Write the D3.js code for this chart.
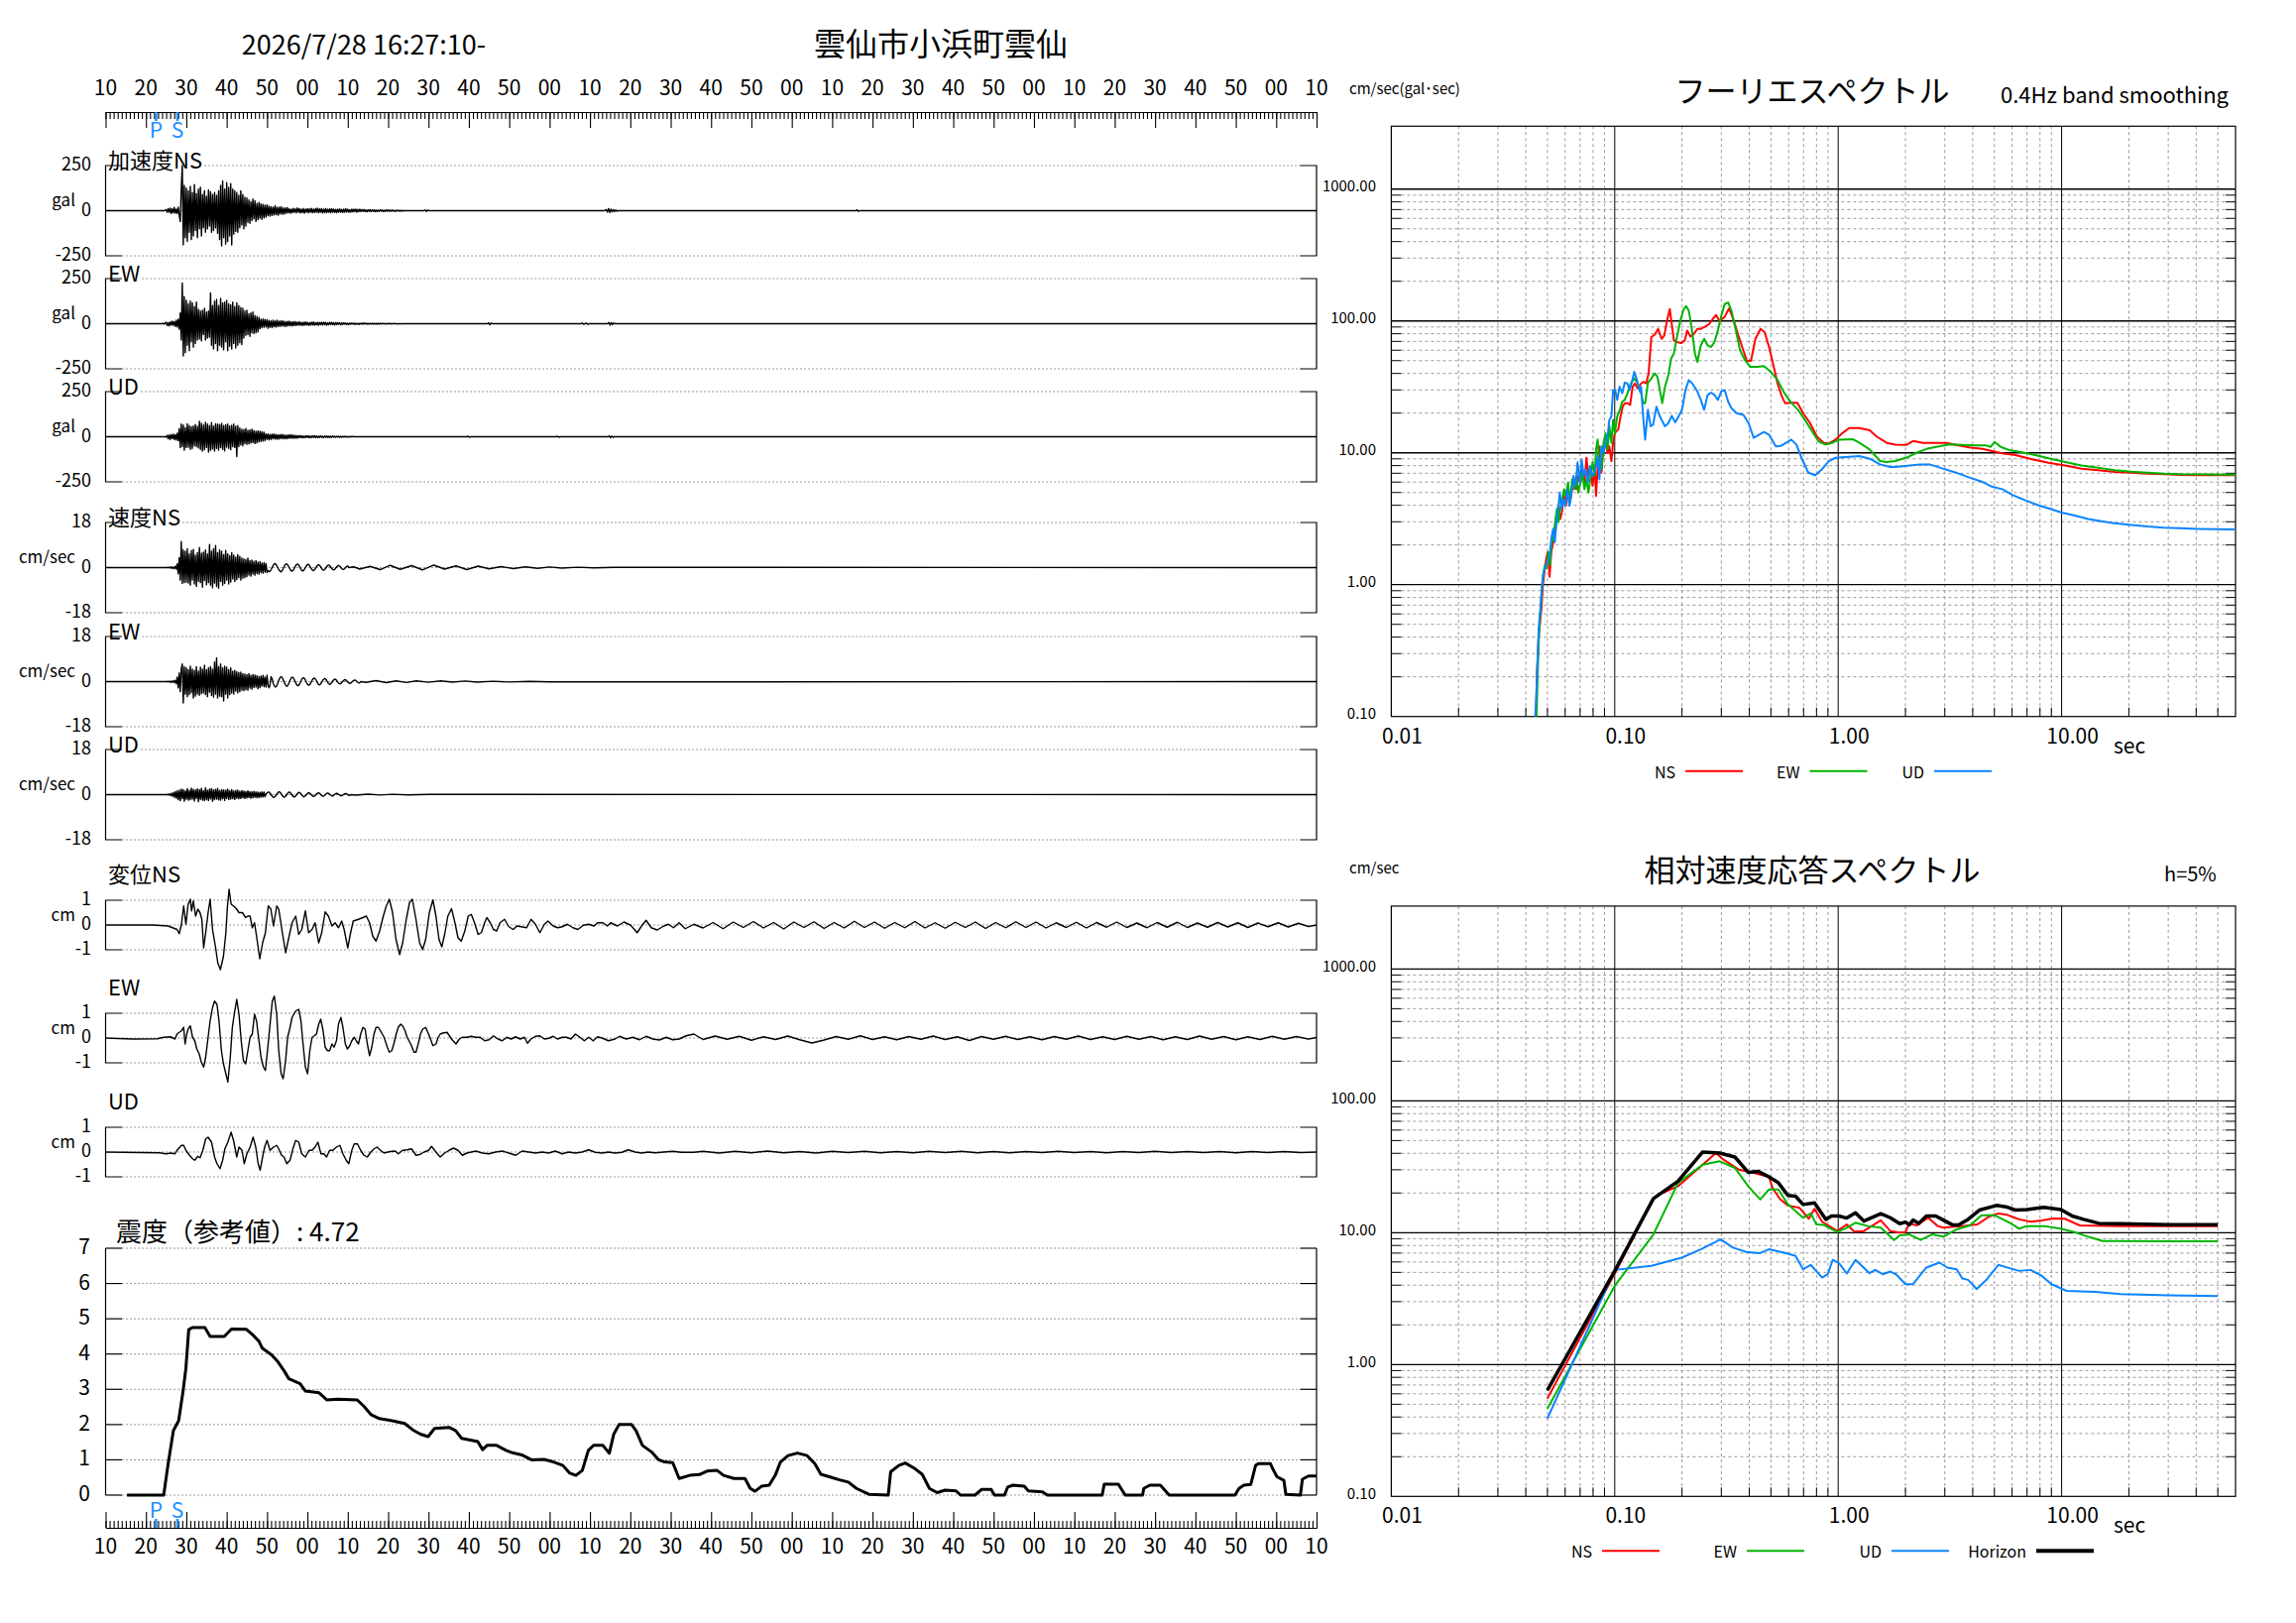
<!DOCTYPE html>
<html lang="ja">
<head>
<meta charset="UTF-8">
<title>雲仙市小浜町雲仙</title>
<script src="https://d3js.org/d3.v7.min.js"></script>
<style>
  body { margin: 0; background: #fff; }
  svg { display: block; font-family: "Noto Sans CJK JP", "Noto Sans", sans-serif; }
  .dot { stroke: #999; stroke-width: 1; stroke-dasharray: 2,2; fill: none; }
  .grid { stroke: #999; stroke-width: 1; stroke-dasharray: 3,3; fill: none; }
  .frame { stroke: #000; stroke-width: 1.2; fill: none; }
  .trace { fill: none; stroke: #000; stroke-width: 1.4; stroke-linejoin: round; }
</style>
</head>
<body>
<div id="chart"></div>
<script>
// ---- 時刻・ラベル ----
const titleTime = "2026/7/28 16:27:10-";
const station = "雲仙市小浜町雲仙";
const timeLabels = ["10","20","30","40","50","00","10","20","30","40","50","00","10","20","30","40","50","00",
  "10","20","30","40","50","00","10","20","30","40","50","00","10"];
const phaseNames = ["P", "S"];
const phaseTimes = [12.5, 17.8];           // 16:27:10 からの秒

const panelNames = ["加速度NS","EW","UD","速度NS","EW","UD","変位NS","EW","UD"];
const panelUnits = ["gal","gal","gal","cm/sec","cm/sec","cm/sec","cm","cm","cm"];
const panelMax = [250, 250, 250, 18, 18, 18, 1, 1, 1];

// ---- 加速度 (gal)  0.25 秒間隔 ----
const DT = 0.25;
const accNS0 = 14, accEW0 = 14, accUD0 = 14;
const accNS = [0,1,-1,2, 6,-9,12,-8,14,-16,10,-12,18,-14,9,-15,20,-25, -60,120,250,-190,140,
  -150,125,-170,110,-120,135,-160,100,-140,145,-110,95,-150,120,-100,130,-140,90,
  -95,110,-120,80,-100,115,-85,105,-120,90,-110,100,-95,85,-125,110,
  -160,140,-195,165,-150,120,-185,155,-170,130,-140,150,-190,120,-130,110,
  -115,100,-120,85,-95,110,-80,90,-100,75,-85,70,
  -65,60,-70,50,-55,65,-45,55,-60,40,-50,45,-42,38,-48,35,-40,30,-36,32,
  -28,25,-30,22,-26,20,-24,28,-22,18,-25,20,-18,22,-20,15,-18,16,-14,17,
  -12,10,-14,9,-11,13,-8,10,-12,15,-9,11,-13,8,-10,12,-14,9,-8,11,-12,10,-9,13,-11,8,-10,12,-9,14,-12,10,
  -8,11,-13,9,-10,12,-11,8,-9,10,-12,11,-8,9,-10,7,-11,9,-8,10,-9,7,-10,8,-9,11,-7,8,-9,6,-8,9,-7,8,-6,9,-8,7,-6,8,
  -5,6,-4,7,-5,4,-6,5,-4,6,-5,4,-3,5,-6,4,-5,3,-4,5,-3,4,-5,3,-4,4,-3,5,-4,3,-3,4,-3,2,-4,3,-2,3,-3,2,-3,2,-2,1];
const accNSEvents = [[78.9,0],[79.2,4],[79.5,-5],[79.8,3],[80.1,0],[123.6,0],[124,6],[124.3,-8],[124.6,12],[124.9,-10],
  [125.2,9],[125.5,-7],[125.8,6],[126.1,-5],[126.4,4],[126.7,-3],[127,0],[185.9,0],[186.2,5],[186.5,-4],[186.8,0]];
const accEW = [0,2,-3,4, 8,-10,6,-12,10,-8,14,-9,12,-15,20,-18,25,-30, 60,-90,226,-179,150,
  -160,130,-120,110,-150,125,-100,115,-130,95,-110,120,
  -90,80,-85,70,-95,75,-60,85,-90,65,-80,70,-75, 171,-120,100,
  -140,125,-110,135,-150,100,-120,140,-130,115,-145,120,-100,130,-150,110,-125,105,-140,120,-110,95,-135,115,-120,100,-105,90,-115,85,
  -80,70,-65,75,-60,55,-70,60,-50,65,-55,45,-50,40,-45,35,
  -28,25,-22,26,-20,24,-18,22,-25,18,-20,16,-22,19,-17,15,-18,20,-16,14,-15,17,-13,15,-14,12,-16,13,-11,14,-12,10,-13,11,-10,12,
  -10,9,-8,11,-9,7,-10,8,-9,10,-7,8,-9,6,-8,9,-7,10,-8,6,-7,8,-9,7,-6,8,-7,9,-6,7,-8,5,-6,7,-5,8,-6,5,-7,6,-5,6,-4,5,-6,4,
  -4,5,-3,4,-5,3,-4,3,-3,4,-2,3,-4,3,-3,2,-4,3,-2,3,-3,4,-2,3,-3,2,-3,2,-2,3,-3,2,-2,2,-3,2,-2,3,-2,2,-1,2,-2,1,-2,2,-1,2,-2,1,-1,2,-1,1,-2,1,-1,1,-1,1,-1,0];
const accEWEvents = [[94.6,0],[94.9,5],[95.2,-6],[95.5,4],[95.8,0],[117.8,0],[118.1,4],[118.4,-3],[118.7,0],[119.2,3],[119.5,-4],[119.8,0],
  [124.4,0],[124.7,7],[125,-8],[125.3,6],[125.6,-5],[125.9,4],[126.2,0]];
const accUD = [0,1,-1,1,-2, 8,-12,10,-15,12,-10,14,-16,12,-18,20,-22,
  45,-60,70,-55,65,-75,50,-60,72,-58,62,-70,55,-65,60,-50,68,-55,58,-62,
  86,-70,75,-80,65,-72,80,-60,70,-85,62,-75,78,-68,60,-80,72,-65,70,-75,68,-60,75,-70,62,-78,66,-58,70,-65,60,-72,64,-55,70,-60,58,-110,62,-55,
  48,-45,42,-50,40,-38,45,-42,36,-40,38,-35,42,-32,35,-38,30,-34,32,-28,30,-26,28,-24,25,-22,
  16,-14,15,-17,13,-15,14,-12,16,-13,12,-14,11,-13,12,-10,13,-11,10,-12,9,-11,10,-9,11,-8,10,-9,8,-9,7,-8,
  6,-5,7,-6,5,-6,4,-5,6,-4,5,-6,4,-5,5,-4,6,-5,4,-5,3,-4,5,-4,3,-5,4,-3,4,-4,3,-4,3,-3,4,-3,2,-3,3,-2,3,-3,2,-3,2,-2,3,-2,2,-2,1,-2,2,-1,2,-1,1];
const accUDEvents = [[89.5,0],[89.8,3],[90.1,-3],[90.4,0],[111.7,0],[112,3],[112.3,-3],[112.6,0],
  [124.5,0],[124.8,5],[125.1,-6],[125.4,4],[125.7,-3],[126,0]];

// ---- 速度 (cm/sec)  0.25 秒間隔 ----
const velNS0 = 15, velEW0 = 15, velUD0 = 15;
const velNS = [0,0.1,-0.1,0.2,-0.2,0.3,-0.3,0.2,-0.4,0.5,-0.6, 1.5,-2.5,4,-5,10.4,-6.3,7,-6,
  6.5,-5.8,7.5,-6.2,5.5,-7,6.8,-5,7.2,-6.5,5,-7.5,6,-5.5,8,-6,5.8,-7.8,6.2,-5.2,7,-6.8,5.5,-6,9.2,-7,6.5,-8,7.5,-6.2,
  8.8,-7.5,6,-8.2,7,-5.5,6.5,-7,5.2,-6.3,6.8,-5,5.5,-6.5,4.8,-5.8,6,-4.5,5,-5.5,4.2,-4.8,5.2,-4,4.5,-5,3.8,-4.2,
  3.5,-4,3.2,-3.6,3.8,-3,2.8,-3.4,3,-2.6,2.5,-3,2.8,-2.4,2.2,-2.6,2.4,-2,1.8,-2.2,2,-1.8,1.6,-2,
  -1.2,-1.6,-1.4,-0.8,0.0,0.8,1.4,1.6,1.2,0.5,-0.3,-1.0, -1.5,-1.7,-1.2,-0.4,0.5,1.2,1.5,1.3,0.7,-0.1,-0.8,-1.3,
  -1.4,-1.0,-0.3,0.5,1.1,1.4,1.2,0.6,-0.2,-0.9,-1.3,-1.2, -0.7,0.0,0.7,1.2,1.3,0.9,0.2,-0.5,-1.0,-1.2,-0.9,-0.3,
  0.4,0.9,1.1,0.9,0.4,-0.2,-0.8,-1.0,-0.8,-0.3,0.3,0.8, 1.0,0.8,0.3,-0.3,-0.7,-0.9,-0.7,-0.2,0.3,0.7,0.8,0.6,
  0.1,-0.4,-0.7,-0.7,-0.4,0.1,0.5,0.6];
const velNSTail = [[61.5,0.3],[63,-0.6],[65.5,0.5],[68,-0.8],[70.5,0.9],[73,-0.7],[75.8,0.8],[78.5,-0.9],[81.3,1.0],
  [84,-0.6],[86.8,0.7],[89.5,-0.8],[92.3,0.6],[95,-0.5],[98,0.4],[101,-0.4],[104,0.3],[107,-0.3],[110,0.25],[113,-0.2],
  [117,0.15],[121,-0.1],[126,0.1],[300,0]];
const velEW = [0,0.1,-0.1,0.2,-0.3,0.2,-0.3,0.4,-0.4,0.5,-0.8, 1.8,-2.5,3.5,-4,5,7,-8.5,6,-5,
  5.5,-6,4.8,-5.2,6.2,-4.5,5,-6.5,4.5,-5.8,6,-5,4.2,-5.5,5.8,-4.8,5,-4.5,6.5,-5.2,4.8,-6,5.5,-4.2,6,-5.5,5,-6.2,
  7.8,-5,9.5,-6.5,6,-5.8,7,-6,5.5,-7.7,6.2,-5,5.8,-6.5,4.8,-5.2,5.5,-4.6,4.2,-5,4.5,-3.8,4,-4.5,3.6,-4,3.8,-3.4,
  3.2,-3.6,3,-3.2,2.8,-3.4,3.2,-2.6,2.5,-3,2.8,-2.4,2.6,-2.2,2.4,-2.8,2,-2.4,2.2,-1.8,2.5,-2,1.8,-2.2,2.6,-1.6,-2.5,-1.2,2.0,1.2,-0.5,
  -1.5,-2.1,-2.0,-1.3,-0.2,0.9,1.7,2.0,1.6,0.8,-0.2,-1.1, -1.7,-1.8,-1.2,-0.3,0.7,1.5,1.8,1.5,0.8,-0.1,-1.0,-1.5,
  -1.6,-1.1,-0.3,0.6,1.3,1.6,1.3,0.6,-0.3,-1.0,-1.4,-1.3, -0.8,0.0,0.8,1.3,1.4,1.0,0.3,-0.5,-1.1,-1.3,-1.0,-0.4,
  0.3,0.9,1.2,1.0,0.5,-0.2,-0.8,-1.1,-0.9,-0.4,0.2,0.7, 1.0,0.9,0.4,-0.2,-0.6,-0.9,-0.8,-0.4,0.1,0.5,0.8,0.7,
  0.3,-0.2,-0.5,-0.7,-0.6,-0.2,0.2,0.5,0.6,0.4,0.0,-0.3,-0.5,-0.4];
const velEWTail = [[64.5,-0.3],[67,0.4],[69.5,-0.4],[72,0.3],[74.5,-0.35],[77,0.3],[80,-0.25],[83,0.3],[86,-0.2],
  [89,0.25],[92,-0.2],[96,0.15],[100,-0.15],[105,0.1],[110,-0.1],[300,0]];
const velUD = [0,0.1,-0.1,0.3,-0.4,0.5,-0.6,0.8,-1.0,1.2,-1.4,1.5,
  -2.0,1.8,-2.4,2.2,-1.6,2.0,-2.6,1.5,-1.8,2.4,-2.2,1.7,-2.0,2.6,-1.8,2.1,-2.5,1.9,-1.6,2.3,
  -2.8,2.0,-1.9,2.5,-2.2,1.6,-2.4,2.7,-2.0,1.8,-2.3,2.2,-1.7,2.4,-2.6,1.9,-2.0,2.1,-1.8,2.5,
  -2.1,1.7,-2.2,2.0,-1.6,1.9,-2.3,1.8,-1.5,2.2,-1.9,1.6,-1.8,2.0,-1.6,1.5,-1.9,1.7,-1.4,1.8,
  -1.6,1.3,-1.5,1.6,-1.2,1.4,-1.5,1.2,-1.3,1.5,-1.1,1.2,-1.4,1.1,-1.2,1.3,-1.0,1.1,-1.2,1.0,
  -1.1,0.9,-1.0,1.1,-0.9,1.0,-0.8,
  0.2,0.7,1.0,1.0,0.6,0.0,-0.6,-1.0,-1.1,-0.8,-0.2,0.4, 0.9,1.1,0.9,0.4,-0.3,-0.8,-1.0,-0.8,-0.3,0.3,0.8,1.0,
  0.8,0.3,-0.3,-0.8,-0.9,-0.7,-0.2,0.4,0.8,0.9,0.6,0.1, -0.4,-0.8,-0.8,-0.5,0.0,0.5,0.8,0.7,0.4,-0.1,-0.5,-0.7,
  -0.6,-0.2,0.3,0.6,0.7,0.5,0.1,-0.3,-0.6,-0.6,-0.3,0.1, 0.4,0.6,0.5,0.2,-0.2,-0.5,-0.5,-0.3,0.1,0.4,0.5,0.4,
  0.1,-0.2,-0.4,-0.4,-0.2,0.1,0.3,0.4,0.3,0.0,-0.2,-0.3];
const velUDTail = [[62,-0.2],[65,0.2],[68,-0.15],[71,0.15],[75,-0.1],[80,0.1],[300,0]];

// ---- 変位 (cm)  [秒, 値] ----
const dispNS = [[0,0],[11.7,0],[15.5,-0.04],[17.7,-0.18],[18.25,-0.35],[18.8,0.03],[19.35,0.77],[19.9,0.03],[20.45,0.84],
  [21.0,1.04],[21.3,0.57],[21.75,0.97],[22.3,0.36],[22.85,0.64],[23.4,0.5],[23.85,0.23],[24.3,-0.92],[24.8,-0.31],[25.4,0.5],
  [25.9,1.04],[26.5,-0.18],[27.2,-0.85],[27.8,-1.53],[28.45,-1.80],[29.2,-1.26],[29.8,-0.31],[30.2,0.77],[30.6,1.44],[31.1,0.84],
  [31.7,0.77],[32.5,0.64],[33.05,0.5],[33.9,0.5],[34.7,0.3],[35.25,0.36],[35.8,0.36],[36.35,-0.11],[36.9,0.09],[37.4,-0.45],
  [38.2,-1.36],[38.9,-0.72],[39.6,-0.31],[40.3,0.77],[40.95,0.64],[41.6,-0.04],[42.4,0.77],[42.9,0.64],[43.8,-0.31],[44.6,-1.12],
  [45.3,-0.58],[46.2,0.09],[47.1,0.36],[47.85,-0.38],[48.6,-0.18],[49.5,0.57],[50.3,-0.31],[51.15,-0.18],[51.9,0.09],[52.8,-0.72],
  [53.55,-0.31],[54.4,0.53],[55.2,0.36],[56.1,-0.04],[56.85,0.09],[57.7,-0.11],[58.5,0.16],[59.1,-0.18],[60.0,-0.92],[60.7,-0.31],
  [61.35,0.16],[62.65,0.23],[63.75,0.30],[64.6,0.36],[65.4,0.09],[66.2,-0.45],[67.0,-0.65],[67.9,-0.24],[68.8,0.36],[69.55,0.77],
  [70.3,1.04],[71.1,0.5],[71.95,-0.58],[72.85,-1.19],[73.6,-0.72],[74.5,0.23],[75.3,0.91],[76.0,1.04],[76.9,0.23],[77.8,-0.72],
  [78.55,-0.99],[79.3,-0.58],[80.2,0.50],[81.1,1.01],[81.85,0.36],[82.6,-0.58],[83.3,-0.88],[84.0,-0.38],[84.8,0.36],[85.7,0.66],
  [86.55,0.09],[87.3,-0.51],[88.1,-0.65],[89.0,-0.24],[89.85,0.36],[90.6,0.43],[91.4,0.09],[92.3,-0.38],[93.1,-0.31],[93.9,0.09],
  [94.45,0.30],[95.3,0.09],[96.1,-0.18],[96.9,-0.24],[97.7,0.09],[98.85,0.23],[99.9,-0.07],[101.0,-0.18],[101.9,-0.04],[103.0,-0.07],
  [104.3,-0.11],[105.4,0.23],[106.5,0.03],[107.6,-0.31],[108.7,0.03],[109.6,0.16],[110.9,-0.04],[112.0,-0.11],[113.1,-0.07],
  [114.4,0.03],[115.8,-0.11],[117.0,-0.18],[118.35,-0.01],[119.7,0.03],[121.0,-0.04],[121.9,0.09],[123.2,0.09],[124.3,-0.04],
  [125.15,0.09],[126.8,-0.04],[128.4,0.12],[130.1,-0.01],[131.7,-0.31],[132.8,-0.04],[133.9,0.19],[135.2,-0.11],[136.65,-0.20],
  [138.3,-0.04],[139.4,0.03],[140.7,-0.11],[142.1,0.09],[143.6,-0.15],[145.75,0.03],
  [148,-0.12],[150.5,0.1],[153,-0.15],[155.5,0.12],[158,-0.1],[160.5,0.14],[163,-0.12],[165.5,0.1],[168,-0.16],[170.5,0.12],
  [173,-0.1],[175.5,0.13],[178,-0.14],[180.5,0.1],[183,-0.12],[185.5,0.15],[188,-0.1],[190.5,0.12],[193,-0.13],[195.5,0.1],
  [198,-0.11],[200.5,0.14],[203,-0.12],[205.5,0.09],[208,-0.13],[210.5,0.11],[213,-0.1],[215.5,0.12],[218,-0.14],[220.5,0.1],
  [223,-0.11],[225.5,0.13],[228,-0.1],[230.5,0.12],[233,-0.12],[235.5,0.09],[238,-0.1],[240.5,0.11],[243,-0.12],[245.5,0.1],
  [248,-0.09],[250.5,0.12],[253,-0.1],[255.5,0.08],[258,-0.11],[260.5,0.1],[263,-0.09],[265.5,0.11],[268,-0.1],[270.5,0.08],
  [273,-0.09],[275.5,0.1],[278,-0.08],[280.5,0.09],[283,-0.1],[285.5,0.08],[288,-0.07],[290.5,0.09],[293,-0.08],[295.5,0.07],
  [298,-0.06],[300,0]];
const dispEW = [[0,0],[6.7,-0.04],[12.8,-0.03],[14.4,0.03],[16.1,0.05],[17.2,-0.04],[17.7,0.16],[18.25,0.23],[18.8,0.29],
  [19.35,0.43],[19.7,-0.24],[20.1,0.16],[20.45,0.36],[21.0,0.49],[21.55,0.03],[22.1,-0.11],[22.6,-0.44],[23.2,-0.64],[23.7,-0.97],
  [24.3,-1.17],[24.8,-0.77],[25.4,0.03],[25.9,0.69],[26.5,1.23],[27.0,1.49],[27.6,1.36],[28.1,0.69],[28.7,-0.51],[29.2,-1.04],
  [29.8,-1.44],[30.3,-1.77],[30.9,-0.77],[31.4,0.43],[32.0,1.09],[32.5,1.56],[33.05,0.96],[33.6,-0.11],[34.15,-0.91],[34.7,-1.04],
  [35.25,-0.51],[35.8,0.03],[36.35,0.16],[36.9,0.96],[37.4,0.69],[38.0,-0.11],[38.5,-0.77],[39.1,-1.17],[39.6,-1.31],[40.2,-0.37],
  [40.75,0.56],[41.3,1.49],[41.8,1.69],[42.4,0.96],[42.9,-0.51],[43.5,-1.44],[44.0,-1.64],[44.6,-0.91],[45.1,0.03],[45.7,0.43],
  [46.2,0.83],[47.1,1.09],[47.85,1.16],[48.4,0.69],[49.0,-0.37],[49.5,-1.17],[50.05,-1.44],[50.6,-0.51],[51.15,0.03],[51.7,0.09],
  [52.25,0.16],[52.8,0.56],[53.3,0.76],[53.9,0.29],[54.4,-0.37],[55.0,-0.51],[55.5,-0.51],[56.1,-0.24],[56.6,-0.37],[57.2,-0.11],
  [57.7,0.56],[58.3,0.83],[58.8,0.43],[59.4,-0.24],[59.9,-0.44],[60.5,-0.31],[61.0,-0.11],[61.6,0.03],[62.1,-0.11],[62.65,-0.24],
  [63.2,0.16],[63.75,0.43],[64.3,0.36],[64.85,-0.24],[65.4,-0.71],[65.95,-0.37],[66.5,0.16],[67.0,0.43],[67.6,0.43],[68.1,0.29],
  [69.0,0.03],[69.8,-0.37],[70.3,-0.57],[70.9,-0.51],[71.4,-0.24],[72.0,0.16],[72.5,0.43],[73.1,0.56],[73.6,0.49],[74.2,0.29],
  [74.7,0.03],[75.6,-0.24],[76.4,-0.57],[76.9,-0.57],[77.45,-0.24],[78.0,0.16],[78.55,0.36],[79.3,0.43],[80.2,0.09],[81.1,-0.31],
  [81.85,-0.24],[82.4,0.03],[82.9,0.16],[83.5,0.20],[84.6,0.23],[85.7,-0.04],[86.8,-0.24],[87.65,-0.04],[88.4,0.03],[89.5,0.03],
  [90.6,0.07],[91.7,0.03],[92.8,0.03],[93.9,-0.11],[95.0,-0.07],[96.1,0.09],[97.2,-0.04],[98.3,-0.11],[99.4,0.03],[100.5,-0.04],
  [101.6,0.05],[102.7,-0.04],[103.8,0.03],[104.5,-0.21],[105.4,-0.04],[106.5,0.07],[107.6,0.09],[108.7,-0.04],[109.8,-0.01],
  [110.9,0.07],[112.0,-0.04],[113.1,0.03],[114.2,0.03],[115.3,-0.04],[116.4,0.16],[117.5,0.03],[118.6,-0.11],[119.7,0.03],
  [120.8,-0.11],[121.9,0.05],[123.0,0.0],[124.6,-0.11],[126.2,-0.04],[127.35,0.07],[129.0,-0.04],[130.6,0.03],[132.3,-0.07],
  [133.9,0.07],[135.6,-0.04],[137.2,-0.08],[138.9,0.03],[140.5,-0.07],[142.1,-0.04],[143.8,0.09],[145.75,0.16],
  [148,-0.06],[151,0.08],[154,-0.05],[157,0.07],[160,-0.09],[163,0.05],[166,-0.06],[169,0.08],[172,-0.07],[175,-0.2],
  [178,-0.08],[181,0.06],[184,-0.05],[187,0.09],[190,-0.06],[193,0.05],[196,-0.07],[199,0.06],[202,-0.05],[205,0.08],
  [208,-0.06],[211,0.05],[214,-0.1],[217,0.06],[220,-0.05],[223,0.07],[226,-0.06],[229,0.05],[232,-0.07],[235,0.06],
  [238,-0.05],[241,0.08],[244,-0.06],[247,0.05],[250,-0.06],[253,0.07],[256,-0.05],[259,0.06],[262,-0.07],[265,0.05],
  [268,-0.06],[271,0.08],[274,-0.05],[277,0.06],[280,-0.07],[283,0.05],[286,-0.06],[289,0.07],[292,-0.05],[295,0.06],
  [298,-0.04],[300,0.02]];
const dispUD = [[0,0],[13.3,-0.03],[15.0,-0.07],[16.1,-0.04],[17.2,-0.07],[17.7,0.07],[18.8,0.27],[19.35,0.27],[19.9,0.07],
  [20.8,-0.13],[21.55,-0.27],[22.1,-0.33],[22.85,-0.17],[23.4,-0.23],[24.1,0.07],[24.8,0.53],[25.4,0.60],[26.25,0.40],[27.0,-0.20],
  [27.6,-0.47],[28.35,-0.67],[29.0,-0.33],[29.55,0.13],[30.3,0.40],[31.1,0.80],[31.7,0.47],[32.5,-0.20],[33.05,0.20],[33.8,0.07],
  [34.35,-0.47],[35.0,-0.07],[35.8,0.20],[36.55,0.60],[37.2,0.20],[37.8,-0.47],[38.3,-0.73],[38.9,-0.20],[39.4,0.20],[40.0,0.47],
  [40.75,0.07],[41.6,0.20],[42.4,0.27],[42.9,0.13],[43.6,-0.13],[44.2,-0.20],[44.9,-0.47],[45.7,-0.33],[46.4,0.13],[47.1,0.47],
  [47.85,0.40],[48.6,-0.07],[49.5,-0.20],[50.4,0.07],[51.15,0.07],[51.9,0.20],[52.6,0.40],[53.35,-0.07],[54.1,-0.07],[54.75,-0.20],
  [55.5,0.07],[56.3,0.07],[57.2,0.20],[58.05,0.27],[58.8,-0.07],[59.6,-0.33],[60.25,-0.47],[61.0,0.07],[61.6,0.33],[62.4,0.33],
  [63.2,0.07],[64.0,-0.13],[64.85,-0.20],[65.7,0.0],[66.5,0.13],[67.25,0.20],[68.1,0.07],[69.0,-0.04],[69.9,0.0],[70.9,0.03],
  [71.75,0.04],[72.5,-0.07],[73.6,0.07],[74.7,0.09],[75.8,0.13],[76.9,-0.13],[78.0,-0.09],[78.9,0.0],[80.0,0.07],[80.75,0.23],
  [81.85,0.0],[82.9,-0.20],[84.0,-0.04],[85.1,0.07],[86.2,0.16],[87.3,0.07],[88.4,-0.13],[89.5,-0.04],[90.6,0.0],[91.7,0.04],
  [93.35,-0.04],[95.0,-0.07],[96.6,0.0],[98.3,0.04],[99.9,-0.04],[101.6,-0.13],[103.2,0.04],[104.9,0.0],[106.5,-0.04],[108.15,0.0],
  [109.8,-0.04],[111.4,0.04],[113.1,-0.07],[114.7,0.0],[116.4,-0.04],[118.0,0.0],[119.7,0.09],[121.3,-0.01],[123.0,-0.04],
  [124.6,0.0],[126.2,-0.04],[127.9,-0.01],[129.5,0.09],[131.2,0.0],[132.8,-0.04],[134.45,0.0],[136.1,-0.03],[138.3,0.0],
  [140.5,0.03],[142.7,-0.01],[145.75,-0.01],
  [148,0.03],[152,-0.04],[156,0.03],[160,-0.03],[164,0.04],[168,-0.03],[172,0.02],[176,-0.04],[180,0.03],[184,-0.02],
  [188,0.03],[192,-0.03],[196,0.02],[200,-0.03],[204,0.03],[208,-0.02],[212,0.03],[216,-0.03],[220,0.02],[224,-0.03],
  [228,0.02],[232,-0.02],[236,0.03],[240,-0.02],[244,0.02],[248,-0.03],[252,0.02],[256,-0.02],[260,0.03],[264,-0.02],
  [268,0.02],[272,-0.02],[276,0.02],[280,-0.03],[284,0.02],[288,-0.02],[292,0.02],[296,-0.02],[300,0]];

// ---- 震度（参考値） ----
const shindoTitle = "震度（参考値）: 4.72";
const shindoTicks = ["0","1","2","3","4","5","6","7"];
const shindo = [[5.3,0],[14.4,0],[15.5,0.89],[16.8,1.83],[18.1,2.11],[19.2,2.95],[19.9,3.6],[20.6,4.69],[21.5,4.75],[24.6,4.75],
  [25.9,4.5],[29.4,4.5],[31.2,4.71],[34.9,4.7],[36.4,4.55],[38,4.36],[38.8,4.17],[41.1,3.98],[42.7,3.78],[44.3,3.51],[45.4,3.3],
  [48.2,3.16],[49.5,2.95],[52.9,2.9],[54.8,2.7],[57.6,2.72],[62.3,2.7],[63.9,2.53],[65.8,2.28],[67.8,2.17],[71,2.11],[74.1,2.03],
  [76.1,1.85],[78,1.73],[79.9,1.66],[81.5,1.89],[85.1,1.92],[86.7,1.83],[88.2,1.61],[92.2,1.52],[93.4,1.29],[94.5,1.41],[96.9,1.41],
  [99.2,1.27],[100.8,1.2],[103.1,1.14],[105.5,1.0],[108.6,1.01],[111,0.94],[113.3,0.84],[114.9,0.63],[116.5,0.56],[118.1,0.7],
  [119.6,1.27],[120.9,1.41],[123.2,1.41],[124.8,1.19],[125.9,1.73],[127.2,2.0],[130.3,2.0],[131.4,1.83],[133,1.41],[135.3,1.22],
  [136.9,1.01],[138.5,0.94],[140.5,0.92],[142.1,0.47],[144.7,0.56],[147.1,0.58],[149,0.68],[151.5,0.7],[153.1,0.56],[155.7,0.47],
  [158.4,0.47],[159.7,0.19],[160.9,0.11],[162.5,0.25],[164.4,0.28],[165.9,0.56],[167.2,0.94],[169.1,1.12],[171.4,1.19],[173.8,1.12],
  [175.7,0.89],[177.2,0.59],[179.3,0.52],[181.6,0.44],[184,0.37],[186,0.19],[189.2,0.02],[193.9,0],[194.5,0.66],[196.5,0.84],
  [198.1,0.91],[200.5,0.75],[202.3,0.59],[204.1,0.19],[206,0.07],[208,0.14],[210.7,0.12],[211.8,0],[215.4,0],[217,0.16],[219.4,0.16],
  [220.2,0],[222.7,0],[223.5,0.23],[224.8,0.28],[227.6,0.25],[228.6,0.12],[232.1,0.09],[233.3,0],[246.9,0],[247.4,0.31],[250.9,0.31],
  [252.6,0],[256.9,0],[257.2,0.19],[258.7,0.28],[261.3,0.28],[263.5,0],[279.8,0],[280.8,0.19],[282,0.28],[283.7,0.3],[284.9,0.84],
  [285.6,0.89],[288.6,0.89],[289,0.78],[290.2,0.52],[291.9,0.42],[292.4,0.02],[296,0],[296.5,0.45],[298,0.54],[300,0.54]];

// ---- フーリエスペクトル [周期 sec, cm/sec] ----
const fourierTitle = "フーリエスペクトル", fourierNote = "0.4Hz band smoothing", fourierUnit = "cm/sec(gal･sec)";
const fsNS = [[0.0444,0.10],[0.0449,0.222],[0.0457,0.418],[0.0462,0.497],[0.0470,0.664],[0.0477,0.994],[0.0487,1.33],[0.0494,1.58],
  [0.0502,1.77],[0.0511,1.15],[0.0520,1.77],[0.0531,2.10],[0.0541,2.65],[0.0551,3.34],[0.0560,3.97],[0.0570,3.15],[0.0580,3.54],
  [0.0593,4.72],[0.0605,3.97],[0.0618,5.00],[0.0631,4.21],[0.0645,5.30],[0.0659,6.30],[0.0673,5.30],[0.0687,6.68],[0.0702,5.95],
  [0.0716,7.50],[0.0732,5.95],[0.0747,9.17],[0.0763,6.68],[0.0780,7.07],[0.0796,5.62],[0.0813,7.94],[0.0825,4.72],[0.0839,7.94],
  [0.0854,11.2],[0.0872,7.07],[0.0891,11.2],[0.0910,11.9],[0.0929,10.0],[0.0946,11.2],[0.0966,8.66],[0.0983,11.9],[0.1001,14.1],
  [0.1018,14.6],[0.1036,15.0],[0.1062,18.9],[0.1085,22.4],[0.1108,23.8],[0.1140,23.8],[0.1172,23.1],[0.1202,31.7],[0.1231,33.6],
  [0.1267,30.8],[0.1312,33.6],[0.1349,34.6],[0.1383,33.6],[0.1418,40.0],[0.1458,75.4],[0.1510,78.9],[0.1564,87.1],[0.1621,73.2],
  [0.1667,77.6],[0.1714,100.6],[0.1763,123.1],[0.1800,94.9],[0.1839,71.2],[0.1898,69.1],[0.1987,68.0],[0.2058,71.2],[0.2109,84.6],
  [0.2184,76.2],[0.2262,79.9],[0.2343,87.1],[0.2427,87.1],[0.2541,90.7],[0.2650,94.9],[0.2745,103.5],[0.2843,110.9],[0.2945,99.4],
  [0.3105,107.8],[0.3250,124.5],[0.3390,103.5],[0.3573,77.6],[0.3741,61.6],[0.3902,49.8],[0.4070,49.8],[0.4261,73.2],[0.4492,87.1],
  [0.4685,82.2],[0.4905,63.4],[0.5170,43.6],[0.5355,33.6],[0.5586,27.0],[0.5786,23.8],[0.6163,24.0],[0.6567,24.0],[0.6970,20.0],
  [0.7481,16.8],[0.8024,13.3],[0.8610,11.9],[0.9074,11.75],[0.9736,12.6],[1.044,14.1],[1.121,15.4],[1.245,15.4],[1.384,14.8],
  [1.485,13.3],[1.650,11.9],[1.802,11.55],[2.021,11.5],[2.164,12.3],[2.397,11.9],[2.747,11.9],[3.042,11.9],[3.370,11.5],[3.860,11.0],
  [4.422,10.7],[4.898,10.3],[5.425,9.9],[6.216,9.6],[7.371,8.92],[8.738,8.41],[10.36,8.03],[12.28,7.59],[14.56,7.37],[17.26,7.16],
  [20.46,7.08],[24.26,6.95],[28.76,6.88],[34.10,6.80],[40.43,6.76],[60,6.76]];
const fsEW = [[0.0447,0.10],[0.0452,0.209],[0.0457,0.373],[0.0463,0.558],[0.0470,0.836],[0.0478,1.18],[0.0487,1.41],[0.0495,1.33],
  [0.0504,1.77],[0.0513,1.41],[0.0522,2.10],[0.0531,2.23],[0.0541,2.98],[0.0551,3.75],[0.0560,2.98],[0.0570,3.75],[0.0580,4.21],
  [0.0593,5.30],[0.0605,4.72],[0.0618,5.95],[0.0631,4.21],[0.0645,6.30],[0.0659,5.30],[0.0673,6.68],[0.0687,5.00],[0.0702,5.95],
  [0.0716,7.07],[0.0732,5.30],[0.0747,6.30],[0.0763,5.00],[0.0780,6.68],[0.0796,8.48],[0.0813,6.68],[0.0825,10.6],[0.0839,12.6],
  [0.0854,7.94],[0.0872,7.50],[0.0891,11.9],[0.0910,14.1],[0.0929,10.6],[0.0946,15.9],[0.0966,11.9],[0.0983,17.8],[0.1001,14.1],
  [0.1026,18.9],[0.1055,21.2],[0.1081,24.5],[0.1108,25.2],[0.1140,28.3],[0.1180,33.6],[0.1223,36.7],[0.1267,33.6],[0.1312,28.3],
  [0.1340,23.8],[0.1368,23.8],[0.1408,34.0],[0.1458,36.7],[0.1510,40.0],[0.1553,37.7],[0.1592,29.9],[0.1632,23.8],[0.1678,31.7],
  [0.1738,38.8],[0.1788,51.8],[0.1839,56.5],[0.1898,75.4],[0.1966,100.6],[0.2036,123.1],[0.2087,129.7],[0.2146,119.6],[0.2207,89.6],
  [0.2286,56.5],[0.2343,48.9],[0.2427,65.2],[0.2514,73.2],[0.2604,65.2],[0.2698,63.4],[0.2794,69.1],[0.2894,84.6],[0.2998,109.7],
  [0.3105,134.2],[0.3216,138.2],[0.3331,119.6],[0.3511,79.9],[0.3637,59.8],[0.3834,50.3],[0.4043,44.8],[0.4337,44.8],[0.4652,45.4],
  [0.4991,41.1],[0.5355,35.6],[0.5745,28.3],[0.6163,24.0],[0.6613,21.2],[0.7096,17.8],[0.7613,14.7],[0.8166,12.2],[0.8761,11.55],
  [0.9400,11.9],[1.0085,12.6],[1.161,12.7],[1.245,11.9],[1.384,10.6],[1.538,8.66],[1.650,8.51],[1.802,8.66],[2.021,9.2],[2.239,10.0],
  [2.480,10.7],[2.747,11.1],[3.147,11.6],[3.606,11.5],[4.131,11.4],[4.575,11.4],[4.815,11.1],[5.016,12.1],[5.333,11.1],[5.807,10.5],
  [6.654,10.1],[7.625,9.6],[8.738,9.1],[10.36,8.52],[12.28,8.03],[14.56,7.72],[17.26,7.37],[20.46,7.20],[24.26,7.08],[28.76,6.95],
  [34.10,6.88],[60,6.84]];
const fsUD = [[0.0441,0.10],[0.0446,0.148],[0.0452,0.279],[0.0457,0.469],[0.0465,0.664],[0.0473,0.994],[0.0478,1.18],[0.0485,1.33],
  [0.0494,1.41],[0.0502,1.53],[0.0511,1.62],[0.0520,2.23],[0.0530,2.65],[0.0539,2.10],[0.0549,2.98],[0.0558,3.75],[0.0568,5.00],
  [0.0578,3.75],[0.0589,4.46],[0.0601,3.97],[0.0614,5.30],[0.0627,3.97],[0.0640,5.00],[0.0654,6.68],[0.0668,5.62],[0.0682,8.48],
  [0.0697,5.95],[0.0711,8.91],[0.0727,6.68],[0.0742,7.50],[0.0758,5.95],[0.0774,7.94],[0.0791,6.68],[0.0808,7.07],[0.0825,7.94],
  [0.0839,9.44],[0.0854,6.30],[0.0872,11.2],[0.0891,10.0],[0.0910,11.9],[0.0929,13.3],[0.0946,17.8],[0.0966,18.9],[0.0983,29.9],
  [0.1004,29.9],[0.1026,25.2],[0.1051,31.7],[0.1081,28.3],[0.1108,34.0],[0.1140,33.6],[0.1164,29.9],[0.1189,33.6],[0.1223,41.1],
  [0.1258,35.6],[0.1294,29.2],[0.1312,31.7],[0.1340,18.9],[0.1368,12.6],[0.1408,21.2],[0.1448,15.9],[0.1484,16.3],[0.1537,22.4],
  [0.1592,18.9],[0.1678,15.9],[0.1738,16.8],[0.1800,19.1],[0.1865,17.0],[0.1931,18.9],[0.2001,21.2],[0.2072,29.9],[0.2146,35.6],
  [0.2223,33.6],[0.2343,29.2],[0.2427,25.2],[0.2514,21.2],[0.2604,27.5],[0.2698,28.6],[0.2794,27.5],[0.2894,25.2],[0.2998,29.2],
  [0.3105,29.9],[0.3216,24.5],[0.3331,21.8],[0.3511,20.0],[0.3767,19.4],[0.3972,16.8],[0.4187,13.0],[0.4414,13.7],[0.4652,14.4],
  [0.4905,13.7],[0.5261,11.2],[0.5546,11.3],[0.5846,11.9],[0.6163,12.6],[0.6498,11.55],[0.6849,9.17],[0.7350,7.07],[0.7886,6.75],
  [0.8459,7.50],[0.9074,8.66],[0.9736,9.17],[1.082,9.28],[1.245,9.44],[1.384,9.01],[1.538,8.17],[1.708,7.80],[1.802,7.80],
  [2.092,8.03],[2.317,8.17],[2.566,8.17],[2.94,7.59],[3.37,7.08],[3.86,6.50],[4.42,6.02],[4.90,5.52],[5.425,5.30],[6.008,4.80],
  [6.884,4.36],[7.889,3.99],[8.738,3.79],[10.01,3.52],[11.47,3.34],[13.15,3.15],[15.07,3.03],[17.26,2.92],[20.46,2.84],[24.26,2.76],
  [28.76,2.71],[34.1,2.68],[40.43,2.65],[60,2.62]];

// ---- 相対速度応答スペクトル h=5% [周期 sec, cm/sec] ----
const responseTitle = "相対速度応答スペクトル", responseNote = "h=5%", responseUnit = "cm/sec";
const rsNS = [[0.0499,0.55],[0.1,4.9],[0.149,18.0],[0.158,19.49],[0.192,22.52],[0.2837,40.2],[0.3069,35.8],[0.3587,30.1],[0.4194,28.4],
  [0.4901,26.5],[0.5097,21.63],[0.5511,17.86],[0.5958,16.09],[0.6700,15.45],[0.7388,12.76],[0.7834,15.18],[0.8471,12.11],[0.9903,10.29],
  [1.092,11.56],[1.181,10.18],[1.302,10.29],[1.551,12.40],[1.711,10.29],[1.887,10.0],[2.0,10.12],[2.080,11.77],[2.249,11.36],
  [2.529,12.98],[2.788,11.23],[2.956,10.91],[3.594,11.23],[4.202,11.56],[4.724,13.21],[5.207,14.0],[5.630,13.76],[6.457,12.62],
  [7.260,12.11],[8.162,12.40],[9.178,12.83],[10.32,12.76],[12.06,11.36],[18.39,11.23],[30,11.2],[50,11.2]];
const rsEW = [[0.0499,0.462],[0.1,3.95],[0.149,9.71],[0.192,23.86],[0.2474,32.8],[0.2950,34.8],[0.3450,31.0],[0.3955,22.52],
  [0.4480,17.86],[0.4901,21.26],[0.5404,21.26],[0.5958,16.37],[0.6967,12.98],[0.7534,14.0],[0.7989,11.56],[0.8639,11.43],[0.9903,10.12],
  [1.092,10.91],[1.195,11.90],[1.354,11.23],[1.551,10.91],[1.779,8.80],[1.887,9.55],[2.080,9.71],[2.339,8.80],[2.630,9.71],[2.956,9.33],
  [3.390,10.60],[3.886,11.36],[4.368,13.52],[5.009,13.60],[5.855,11.90],[6.457,10.72],[6.982,11.23],[8.323,11.23],[9.922,10.72],
  [11.60,10.0],[13.56,9.17],[15.25,8.65],[18.39,8.65],[30,8.6],[50,8.6]];
const rsUD = [[0.0499,0.388],[0.1,5.22],[0.146,5.60],[0.1996,6.47],[0.2427,7.48],[0.2974,8.90],[0.3383,7.70],[0.3878,7.14],[0.4446,6.98],
  [0.4901,7.48],[0.5730,7.06],[0.6444,6.66],[0.6967,5.28],[0.7534,5.70],[0.8471,4.57],[0.8984,4.84],[0.9449,6.22],[1.0098,5.87],
  [1.092,4.90],[1.195,6.22],[1.276,5.60],[1.380,4.93],[1.464,5.22],[1.582,4.84],[1.711,5.07],[1.814,4.84],[2.0,4.07],[2.163,4.07],
  [2.480,5.44],[2.843,5.93],[3.074,5.44],[3.390,5.28],[3.594,4.49],[3.811,4.39],[4.169,3.73],[4.632,4.44],[5.207,5.70],[5.855,5.38],
  [6.457,5.13],[7.260,5.22],[8.162,4.70],[9.0,4.07],[10.52,3.62],[14.10,3.56],[18.39,3.42],[30,3.35],[50,3.3]];
const rsH = [[0.0499,0.636],[0.1,5.13],[0.149,18.17],[0.192,24.57],[0.2474,40.9],[0.2950,40.2],[0.3450,37.5],[0.3955,28.7],[0.4394,29.2],
  [0.4901,26.5],[0.5404,23.86],[0.5958,19.15],[0.6444,18.93],[0.6967,16.37],[0.7834,16.86],[0.8809,12.62],[0.9339,13.37],[1.0098,13.37],
  [1.092,12.91],[1.195,14.16],[1.302,12.25],[1.551,13.92],[1.711,12.98],[1.887,11.70],[2.0,12.04],[2.080,11.49],[2.163,12.47],
  [2.294,11.77],[2.480,13.37],[2.734,13.37],[2.956,12.47],[3.260,11.43],[3.457,11.43],[3.811,12.62],[4.285,14.84],[5.108,16.09],
  [5.630,15.72],[6.210,14.84],[6.982,15.0],[8.323,15.6],[9.922,15.0],[11.16,13.37],[12.54,12.62],[14.67,11.77],[18.39,11.70],
  [30,11.5],[50,11.5]];

const specYLabels = ["0.10", "1.00", "10.00", "100.00", "1000.00"];
const specXLabels = ["0.01", "0.10", "1.00", "10.00"];
const compNames = ["NS", "EW", "UD", "Horizon"];
const compColors = ["#ff0000", "#00b400", "#0a84ff", "#000000"];

// ================= 描画 =================
const svg = d3.select("#chart").append("svg").attr("width", 2316).attr("height", 1637);

function txt(g, x, y, s, size, anchor, color) {
  return g.append("text").attr("x", x).attr("y", y).attr("font-size", size)
    .attr("text-anchor", anchor || "start").attr("dominant-baseline", "central")
    .attr("fill", color || "#000").text(s);
}
function hline(g, x1, x2, y, cls) {
  return g.append("line").attr("x1", x1).attr("x2", x2).attr("y1", y).attr("y2", y).attr("class", cls || null)
    .attr("stroke", cls ? null : "#000");
}

const X0 = 106.5, X1 = 1328, TK = 16.5;
const x = d3.scaleLinear().domain([0, 300]).range([X0, X1]);

txt(svg, 367, 43, titleTime, 27, "middle");
txt(svg, 949, 42, station, 32, "middle");

// 時刻目盛り（小目盛り・大目盛りは別グループ）
function ruler(y0, up, labelY, psTextY) {
  const mk = (vals, size) => (up ? d3.axisTop(x) : d3.axisBottom(x))
    .tickValues(vals).tickSize(size).tickSizeOuter(0).tickFormat("");
  const gMinor = svg.append("g").attr("transform", `translate(0,${y0})`).call(mk(d3.range(0, 301), 7));
  const gMajor = svg.append("g").attr("transform", `translate(0,${y0})`).call(mk(timeLabels.map((d, i) => i * 10), 16));
  [gMinor, gMajor].forEach(g => g.selectAll("line, path").attr("stroke", "#000").attr("stroke-width", 1.1));
  timeLabels.forEach((s, i) => txt(svg, x(i * 10), labelY, s, 21, "middle"));
  phaseNames.forEach((p, i) => {
    svg.append("line").attr("x1", x(phaseTimes[i])).attr("x2", x(phaseTimes[i]))
      .attr("y1", y0).attr("y2", y0 + (up ? -9 : 9)).attr("stroke", "#1e90ff").attr("stroke-width", 2.5);
    txt(svg, x(phaseTimes[i]), psTextY, p, 21, "middle", "#1e90ff");
  });
}
ruler(113, false, 87, 130);
ruler(1541, true, 1558, 1522);

// 波形パネル
function burst(t0, vals, tail) {
  const pts = [[0, 0], [t0 - DT, 0]];
  vals.forEach((v, i) => pts.push([t0 + i * DT, v]));
  pts.push([t0 + vals.length * DT, 0]);
  tail.forEach(p => pts.push(p));
  if (pts[pts.length - 1][0] < 300) pts.push([300, 0]);
  return pts;
}
const traces = [
  burst(accNS0, accNS, accNSEvents), burst(accEW0, accEW, accEWEvents), burst(accUD0, accUD, accUDEvents),
  burst(velNS0, velNS, velNSTail), burst(velEW0, velEW, velEWTail), burst(velUD0, velUD, velUDTail),
  dispNS, dispEW, dispUD
];
const panelTop = [167, 281, 395, 527, 642, 756, 908, 1022, 1137];

panelNames.forEach((name, i) => {
  const top = panelTop[i], half = i < 6 ? 45.5 : 25, zero = top + half, bot = zero + half;
  const m = panelMax[i];
  const y = d3.scaleLinear().domain([-m, m]).range([bot, top]);
  const g = svg.append("g");
  const lab = txt(g, 109, top - (i < 6 ? 7 : 28), name, 22);
  const bb = lab.node().getBBox();
  const startTop = i < 6 ? Math.max(X0 + TK, bb.x + bb.width + 2) : X0 + TK;
  hline(g, startTop, X1 - TK, y(m), "dot");
  hline(g, X0 + TK, X1 - TK, y(0), "dot");
  hline(g, X0 + TK, X1 - TK, y(-m), "dot");
  g.append("path").attr("class", "frame")
    .attr("d", `M${X0 + TK},${y(m)}H${X0}V${y(-m)}H${X0 + TK}M${X1 - TK},${y(m)}H${X1}V${y(-m)}H${X1 - TK}`);
  [m, 0, -m].forEach(v => txt(g, 92, y(v) - 3, String(v), 18, "end"));
  txt(g, 76, zero - 12, panelUnits[i], 17, "end");
  g.append("path").datum(traces[i]).attr("class", "trace")
    .attr("d", d3.line().x(d => x(d[0])).y(d => y(d[1])));
});

// 震度
{
  const y = d3.scaleLinear().domain([0, 7]).range([1508, 1259]);
  const g = svg.append("g");
  txt(g, 117, 1240, shindoTitle, 26);
  shindoTicks.forEach((s, i) => {
    hline(g, X0 + TK, X1 - TK, y(i), "dot");
    hline(g, X0, X0 + TK, y(i)).attr("stroke-width", 1.2);
    hline(g, X1 - TK, X1, y(i)).attr("stroke-width", 1.2);
    txt(g, 91, y(i) - 3, s, 21, "end");
  });
  g.append("path").attr("class", "frame").attr("d", `M${X0},${y(7)}V${y(0)}M${X1},${y(7)}V${y(0)}`);
  g.append("path").datum(shindo).attr("fill", "none").attr("stroke", "#000").attr("stroke-width", 3)
    .attr("stroke-linejoin", "round").attr("d", d3.line().x(d => x(d[0])).y(d => y(d[1])));
}

// スペクトル
const sx = d3.scaleLog().domain([0.01, 60]).range([1403.4, 2255]);
function spectrum(off, title, note, unit, series, legendStart, legendStep, widths) {
  const y = d3.scaleLog().domain([0.1, 3000]).range([722.7 + off, 127.3 + off]);
  const g = svg.append("g");
  const L = sx.range()[0], R = sx.range()[1], T = y.range()[1], B = y.range()[0];
  const clipId = "clip" + Math.round(off);
  g.append("clipPath").attr("id", clipId).append("rect").attr("x", L).attr("y", T).attr("width", R - L).attr("height", B - T);

  [0.01, 0.1, 1, 10].forEach(d => d3.range(2, 10).forEach(k => {
    const v = k * d;
    if (v >= 60) return;
    g.append("line").attr("class", "grid").attr("x1", sx(v)).attr("x2", sx(v)).attr("y1", T).attr("y2", B);
    g.append("line").attr("stroke", "#000").attr("x1", sx(v)).attr("x2", sx(v)).attr("y1", B - 9).attr("y2", B);
  }));
  [0.1, 1, 10, 100].forEach(d => d3.range(2, 10).forEach(k => {
    const v = k * d;
    hline(g, L + 10, R - 10, y(v), "grid");
    hline(g, L, L + 10, y(v));
    hline(g, R - 10, R, y(v));
  }));
  [0.1, 1, 10].forEach(v => g.append("line").attr("stroke", "#000").attr("x1", sx(v)).attr("x2", sx(v)).attr("y1", T).attr("y2", B));
  [1, 10, 100, 1000].forEach(v => hline(g, L, R, y(v)).attr("stroke-width", 1.3));
  g.append("rect").attr("class", "frame").attr("x", L).attr("y", T).attr("width", R - L).attr("height", B - T);

  specYLabels.forEach((s, i) => txt(g, 1388, y(Math.pow(10, i - 1)) - 4, s, 15, "end"));
  specXLabels.forEach((s, i) => txt(g, sx(Math.pow(10, i - 2)) + 11, B + 18, s, 21, "middle"));
  txt(g, 2132, B + 28, "sec", 21);
  txt(g, 1361, off + 88, unit, 15);
  txt(g, 1828, off + 89, title, 31, "middle");
  txt(g, off ? 2183 : 2018, off + 94, note, off ? 20 : 22);

  const line = d3.line().x(d => sx(d[0])).y(d => y(d[1]));
  series.forEach((s, i) => {
    g.append("path").datum(s).attr("clip-path", `url(#${clipId})`).attr("fill", "none")
      .attr("stroke", compColors[i]).attr("stroke-width", widths[i]).attr("stroke-linejoin", "round").attr("d", line);
    const lx = legendStart + i * legendStep, ly = B + 55;
    txt(g, lx - 10, ly, compNames[i], 16, "end");
    hline(g, lx, lx + 58, ly).attr("stroke", compColors[i]).attr("stroke-width", i === 3 ? 4 : 2);
  });
}
spectrum(0, fourierTitle, fourierNote, fourierUnit, [fsNS, fsEW, fsUD], 1700, 125.5, [2, 2, 2]);
spectrum(786.6, responseTitle, responseNote, responseUnit, [rsNS, rsEW, rsUD, rsH], 1616, 146, [2, 2, 2, 3.5]);
</script>
</body>
</html>
